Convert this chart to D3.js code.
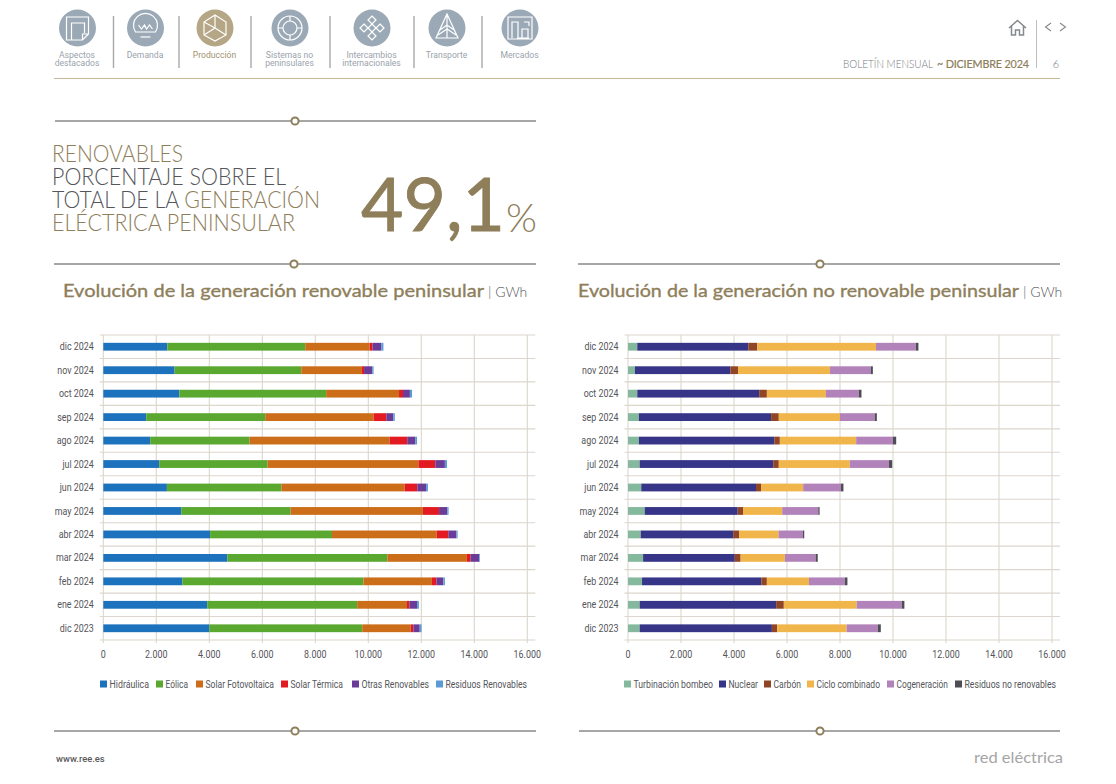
<!DOCTYPE html>
<html><head><meta charset="utf-8">
<script src="https://cdn.jsdelivr.net/npm/d3@7"></script>
<style>html,body{margin:0;padding:0;background:#fff}svg{display:block}</style></head>
<body><svg id="c" width="1116" height="784"></svg>
<script>
const months = ["dic 2024","nov 2024","oct 2024","sep 2024","ago 2024","jul 2024","jun 2024","may 2024","abr 2024","mar 2024","feb 2024","ene 2024","dic 2023"];
const ticks = [0,2000,4000,6000,8000,10000,12000,14000,16000];
const navLabels = [["Aspectos","destacados"],["Demanda"],["Producción"],["Sistemas no","peninsulares"],["Intercambios","internacionales"],["Transporte"],["Mercados"]];

const renNames = ["Hidráulica","Eólica","Solar Fotovoltaica","Solar Térmica","Otras Renovables","Residuos Renovables"];
const renColors = ["#1c72bd","#5ba831","#cc6e19","#e31a22","#6a3b97","#5b9bd5"];
const hidraulica = [2415,2690,2870,1620,1770,2110,2400,2940,4030,4680,2980,3920,4000];
const eolica     = [5205,4780,5540,4490,3750,4090,4320,4130,4600,6040,6840,5660,5770];
const fotovolt   = [2430,2290,2750,4090,5280,5690,4650,4990,3950,3000,2580,1880,1830];
const termica    = [110,80,150,480,670,640,480,610,440,140,170,90,100];
const otrasRen   = [330,310,260,260,300,360,330,310,300,320,260,290,240];
const residRen   = [80,50,80,60,70,80,70,50,50,30,60,70,70];

const noNames = ["Turbinación bombeo","Nuclear","Carbón","Ciclo combinado","Cogeneración","Residuos no renovables"];
const noColors = ["#85b99e","#373588","#8f4526","#f0b64c","#b283ba","#4d4d55"];
const bombeo   = [350,260,350,410,410,440,500,630,480,570,530,440,440];
const nuclear  = [4190,3600,4600,4990,5110,5040,4330,3510,3490,3460,4500,5150,4990];
const carbon   = [340,290,290,290,210,210,190,200,220,220,210,290,200];
const ciclo    = [4480,3470,2230,2310,2880,2680,1590,1480,1490,1670,1590,2750,2620];
const cogen    = [1500,1540,1240,1310,1390,1480,1420,1360,920,1160,1350,1700,1180];
const residNo  = [100,80,100,80,120,120,100,50,50,80,100,100,110];

const gold="#8e7e5a", gray="#55565a", grid="#dcd6cc";
const svg=d3.select("#c");
const SANS="Roboto, sans-serif", LIGHT="Lato, sans-serif";

// header navigation
const navX=[77.5,145.5,215,290,372,447,520], sepX=[113.5,179,251,330,414,482];
const nav=svg.append("g");
navX.forEach((x,i)=>{
  const active=i===2, col=active?"#b5a685":"#9aa9b5";
  nav.append("circle").attr("cx",x).attr("cy",28).attr("r",18.5).attr("fill",col);
  const g=nav.append("g").attr("transform",`translate(${x},28)`).attr("fill","none").attr("stroke","#fff").attr("stroke-width",1.2);
  if(i===0){g.append("path").attr("d","M-11,-11H11V6L5,12H-11ZM-6,12V-5H7V5M5,12V6H11");}
  if(i===1){g.append("path").attr("d","M-10,4A12,12 0 1 1 10,4Z");g.append("path").attr("d","M-7,-3L-4,1L-1,-3L1,1L4,-3L7,1");g.append("path").attr("d","M-5,9H5");}
  if(i===2){g.append("path").attr("d","M0,-13L11,-6V7L0,13L-11,7V-6ZM0,-13V0M-11,7L0,0L11,7M-11,-6L0,0");}
  if(i===3){g.append("circle").attr("r",12);g.append("circle").attr("r",7);g.append("path").attr("d","M0,-12V-7M0,7V12M-12,0H-7M7,0H12");}
  if(i===4){[[0,-8],[0,8],[-8,0],[8,0],[0,0]].forEach(p=>g.append("path").attr("d",`M${p[0]},${p[1]-4}L${p[0]+4},${p[1]}L${p[0]},${p[1]+4}L${p[0]-4},${p[1]}Z`));}
  if(i===5){g.append("path").attr("d","M0,-14L11,10H-11ZM0,-14V10M-7,2L0,-3L7,2M-9,7L0,1L9,7");}
  if(i===6){g.append("path").attr("d","M-12,-11H12V11H-12ZM-8,10V-6H-2V10M2,10V1H8V10M-3,10H9M4,-6H9V-2");}
  navLabels[i].forEach((t,k)=>nav.append("text").attr("x",x-0.5).attr("y",58.2+k*7.8).attr("text-anchor","middle")
    .attr("font-family",SANS).attr("font-size",8.6).attr("fill",active?"#a2926f":"#9aa3ab").text(t));
});
sepX.forEach(x=>nav.append("line").attr("x1",x).attr("x2",x).attr("y1",16).attr("y2",68).attr("stroke","#a9a9a9").attr("stroke-width",1.4));
svg.append("line").attr("x1",54).attr("x2",1060).attr("y1",78.5).attr("y2",78.5).attr("stroke","#c6b997").attr("stroke-width",1);

// top right
const hd=svg.append("g").attr("fill","none").attr("stroke","#85888c").attr("stroke-width",1.5);
hd.append("path").attr("d","M1009,28L1017.5,20.5L1026,28M1011.5,26V35H1015.5V30H1019.5V35H1023.5V26");
hd.append("path").attr("d","M1051,23L1045.5,27L1051,31M1060,23L1065.5,27L1060,31").attr("stroke-width",1.1);
svg.append("line").attr("x1",1036.5).attr("x2",1036.5).attr("y1",20).attr("y2",68).attr("stroke","#bdbdbd");
svg.append("text").attr("x",843).attr("y",67.5).attr("font-family",LIGHT).attr("font-weight",300).attr("font-size",10.8).attr("fill","#77787b")
  .attr("textLength",90).attr("lengthAdjust","spacingAndGlyphs").text("BOLETÍN MENSUAL");
svg.append("text").attr("x",937).attr("y",67.5).attr("font-family",LIGHT).attr("font-size",10.8).attr("fill",gold).attr("stroke",gold).attr("stroke-width",0.2)
  .attr("textLength",92).attr("lengthAdjust","spacing").text("~ DICIEMBRE 2024");
svg.append("text").attr("x",1056).attr("y",67.5).attr("text-anchor","middle").attr("font-family",LIGHT).attr("font-weight",300).attr("font-size",11).attr("fill","#77787b").text("6");

// ornamental rules
function rule(x1,x2,cx,y){
  svg.append("line").attr("x1",x1).attr("x2",x2).attr("y1",y).attr("y2",y).attr("stroke","#4f4f4f").attr("stroke-width",1);
  svg.append("circle").attr("cx",cx).attr("cy",y).attr("r",3.6).attr("fill","#fff").attr("stroke",gold).attr("stroke-width",2);
}
rule(55,536,295,121);rule(54,536,294,264);rule(578,1060,820,264);rule(54,536,295,731);rule(579,1060,820,731);

// headline block
const hl=[[["RENOVABLES",gold]],[["PORCENTAJE SOBRE EL",gray]],[["TOTAL DE LA ",gray],["GENERACIÓN",gold]],[["ELÉCTRICA PENINSULAR",gold]]];
const hlW=[131,234,268,243], hlY=[161.5,184.5,207.5,230.5];
hl.forEach((ln,i)=>{
  const t=svg.append("text").attr("x",52).attr("y",hlY[i]).attr("font-family",LIGHT).attr("font-weight",300).attr("font-size",22.5)
   .attr("textLength",hlW[i]).attr("lengthAdjust","spacingAndGlyphs");
  ln.forEach(s=>t.append("tspan").attr("fill",s[1]).text(s[0]));
});
svg.append("text").attr("x",361).attr("y",231).attr("font-family",LIGHT).attr("font-size",73).attr("fill",gold).attr("stroke",gold).attr("stroke-width",0.9)
  .attr("textLength",144).attr("lengthAdjust","spacingAndGlyphs").text("49,1");
svg.append("text").attr("x",506).attr("y",232).attr("font-family",LIGHT).attr("font-weight",300).attr("font-size",40).attr("fill",gold)
  .attr("textLength",31).attr("lengthAdjust","spacingAndGlyphs").text("%");

const squeeze=0.84;
function condense(sel){sel.each(function(){const w=this.getComputedTextLength();
  d3.select(this).attr("textLength",w*squeeze).attr("lengthAdjust","spacingAndGlyphs");});}

// charts
function chart(o){
  const x=d3.scaleLinear().domain([0,16000]).range([o.x0,o.x0+424]);
  const y=d3.scaleBand().domain(months).range([335,640]);
  const g=svg.append("g");
  g.append("text").attr("x",o.tx).attr("y",296.8).attr("font-family",LIGHT).attr("font-size",18).attr("fill",gold).attr("stroke",gold).attr("stroke-width",0.35)
    .attr("textLength",o.tw).attr("lengthAdjust","spacingAndGlyphs").text(o.title);
  g.append("text").attr("x",o.ux).attr("y",297).attr("font-family",LIGHT).attr("font-weight",300).attr("font-size",14).attr("fill",gray).text("| GWh");
  g.append("g").selectAll("line").data(ticks).join("line")
    .attr("x1",d=>x(d)).attr("x2",d=>x(d)).attr("y1",335).attr("y2",643).attr("stroke",grid).attr("stroke-width",1.1);
  const hs=months.map(m=>y(m)).concat([640]);
  g.append("g").selectAll("line").data(hs).join("line")
    .attr("x1",o.x0-3.5).attr("x2",o.x0+432).attr("y1",d=>d).attr("y2",d=>d).attr("stroke",grid).attr("stroke-width",1.1);
  const rows=months.map((m,i)=>{const r={m};o.names.forEach((n,k)=>r[n]=o.series[k][i]);return r;});
  const st=d3.stack().keys(o.names)(rows);
  g.selectAll("g.s").data(st).join("g").attr("class","s").attr("fill",(d,i)=>o.colors[i])
   .selectAll("rect").data(d=>d).join("rect")
   .attr("x",d=>x(d[0])).attr("width",d=>x(d[1])-x(d[0]))
   .attr("y",d=>y(d.data.m)+y.bandwidth()/2-3.9).attr("height",7.8);
  g.append("g").selectAll("text").data(months).join("text")
    .attr("x",o.x0-9.5).attr("y",d=>y(d)+y.bandwidth()/2+3.6).attr("text-anchor","end")
    .attr("font-family",SANS).attr("font-size",10.6).attr("fill","#55565a").text(d=>d).call(condense);
  const fmt=v=>v===0?"0":d3.format(",")(v).replace(",",".");
  g.append("g").selectAll("text").data(ticks).join("text")
    .attr("x",d=>x(d)).attr("y",657.5).attr("text-anchor","middle")
    .attr("font-family",SANS).attr("font-size",10.6).attr("fill","#55565a").text(fmt).call(condense);
  o.names.forEach((n,i)=>{
    g.append("rect").attr("x",o.lx[i]).attr("y",680.5).attr("width",7).attr("height",7).attr("fill",o.colors[i]);
    g.append("text").attr("x",o.lx[i]+9.5).attr("y",687.5).attr("font-family",SANS).attr("font-size",10.6).attr("fill","#55565a")
     .attr("textLength",o.le[i]-o.lx[i]-9.5).attr("lengthAdjust","spacingAndGlyphs").text(n);
  });
}
chart({x0:103.3,title:"Evolución de la generación renovable peninsular",tx:63,tw:421,ux:488,names:renNames,colors:renColors,
  series:[hidraulica,eolica,fotovolt,termica,otrasRen,residRen],lx:[100,156,196,281,352,436],le:[149,188,274,343,429,527]});
chart({x0:628,title:"Evolución de la generación no renovable peninsular",tx:578,tw:441,ux:1023,names:noNames,colors:noColors,
  series:[bombeo,nuclear,carbon,ciclo,cogen,residNo],lx:[624,719,764,807,887,955],le:[713,758,801,880,948,1056]});

// footer
svg.append("text").attr("x",56).attr("y",762).attr("font-family",SANS).attr("font-weight",500).attr("font-size",9.4).attr("fill","#5a5a5a").text("www.ree.es");
svg.append("text").attr("x",974).attr("y",763).attr("font-family",LIGHT).attr("font-size",15).attr("fill","#a5a5a5")
  .attr("textLength",89).attr("lengthAdjust","spacingAndGlyphs").text("red eléctrica");
</script></body></html>
